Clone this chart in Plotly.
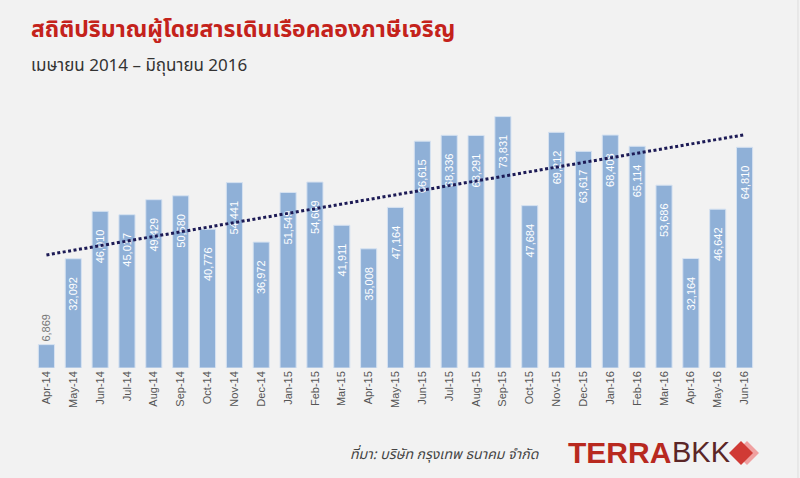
import plotly.graph_objects as go

months = ["Apr-14", "May-14", "Jun-14", "Jul-14", "Aug-14", "Sep-14", "Oct-14", "Nov-14", "Dec-14",
          "Jan-15", "Feb-15", "Mar-15", "Apr-15", "May-15", "Jun-15", "Jul-15", "Aug-15", "Sep-15",
          "Oct-15", "Nov-15", "Dec-15", "Jan-16", "Feb-16", "Mar-16", "Apr-16", "May-16", "Jun-16"]
passengers = [6869, 32092, 46010, 45017, 49429, 50580, 40776, 54441, 36972,
              51549, 54609, 41911, 35008, 47164, 66615, 68336, 68291, 73831,
              47684, 69212, 63617, 68408, 65114, 53686, 32164, 46642, 64810]

# linear trendline end points
trend_months = ["Apr-14", "Jun-16"]
trend_values = [33200, 68500]

title_text = "สถิติปริมาณผู้โดยสารเดินเรือคลองภาษีเจริญ"
subtitle_text = "เมษายน 2014 – มิถุนายน 2016"
source_text = "ที่มา: บริษัท กรุงเทพ ธนาคม จำกัด"

pad = "\u00a0" * 5
labels = []
positions = []
for v in passengers:
    if v < 15000:
        labels.append(f"{v:,}")
        positions.append("outside")
    else:
        labels.append(f"{v:,}" + pad)
        positions.append("inside")

fig = go.Figure()
fig.add_trace(go.Bar(
    x=months, y=passengers, text=labels, textposition=positions,
    textangle=-90, insidetextanchor="end", constraintext="none", cliponaxis=False,
    insidetextfont=dict(color="white", size=11, family="Liberation Sans, Arial"),
    outsidetextfont=dict(color="#777777", size=11, family="Liberation Sans, Arial"),
    marker=dict(color="#8fb0d7", line=dict(color="#d6e2f1", width=1)),
    width=0.6, hoverinfo="x+y", showlegend=False,
))
fig.add_trace(go.Scatter(
    x=trend_months, y=trend_values, mode="lines",
    line=dict(color="#1c1a55", width=3, dash="3px,2.5px"),
    hoverinfo="skip", showlegend=False,
))

L, W, B, H = 33, 725, 368, 268
def px(x):
    return (x - L) / W
def py(y):
    return (B - y) / H

fig.update_layout(
    width=800, height=478,
    paper_bgcolor="#f2f2f2", plot_bgcolor="#f2f2f2",
    margin=dict(l=33, r=42, t=100, b=110),
    xaxis=dict(tickangle=-90, showgrid=False, showline=False, zeroline=False,
               tickfont=dict(size=11, color="#555555", family="Liberation Sans, Arial"),
               range=[-0.5, 26.5], ticks="", fixedrange=True),
    yaxis=dict(visible=False, range=[0, 78700], showgrid=False, zeroline=False),
    bargap=0.4,
    annotations=[
        dict(text="<b>" + title_text + "</b>", xref="paper", yref="paper",
             x=px(29), y=py(30), xanchor="left", yanchor="middle", showarrow=False,
             font=dict(size=23, color="#c4221b", family="Noto Sans Thai, Noto Sans, sans-serif")),
        dict(text=subtitle_text, xref="paper", yref="paper",
             x=px(29), y=py(66), xanchor="left", yanchor="middle", showarrow=False,
             font=dict(size=17, color="#333333", family="Noto Sans Thai, Noto Sans, sans-serif")),
        dict(text="<i>" + source_text + "</i>", xref="paper", yref="paper",
             x=px(541), y=py(454), xanchor="right", yanchor="middle", showarrow=False,
             font=dict(size=14, color="#444444", family="Noto Sans Thai, Noto Sans, sans-serif")),
        dict(text="<b>TERRA</b>", xref="paper", yref="paper",
             x=px(566), y=py(452), xanchor="left", yanchor="middle", showarrow=False,
             font=dict(size=30, color="#b8291f", family="Liberation Sans Narrow, Arial Narrow, Liberation Sans")),
        dict(text="BKK", xref="paper", yref="paper",
             x=px(670), y=py(452), xanchor="left", yanchor="middle", showarrow=False,
             font=dict(size=29, color="#5b2626", family="Liberation Sans, Arial")),
    ],
    shapes=[
        dict(type="path", xref="paper", yref="paper",
             path="M {},{} L {},{} L {},{} L {},{} Z".format(
                 px(735), py(453), px(747), py(441), px(759), py(453), px(747), py(465)),
             fillcolor="#f0a0a0", line=dict(width=0)),
        dict(type="path", xref="paper", yref="paper",
             path="M {},{} L {},{} L {},{} L {},{} Z".format(
                 px(729), py(453), px(741), py(441), px(753), py(453), px(741), py(465)),
             fillcolor="#d03a35", line=dict(width=0)),
        dict(type="line", xref="paper", yref="paper",
             x0=px(798), x1=px(798), y0=py(478), y1=py(0),
             line=dict(color="#dddddd", width=1)),
    ],
)

fig.write_html("out.html")
